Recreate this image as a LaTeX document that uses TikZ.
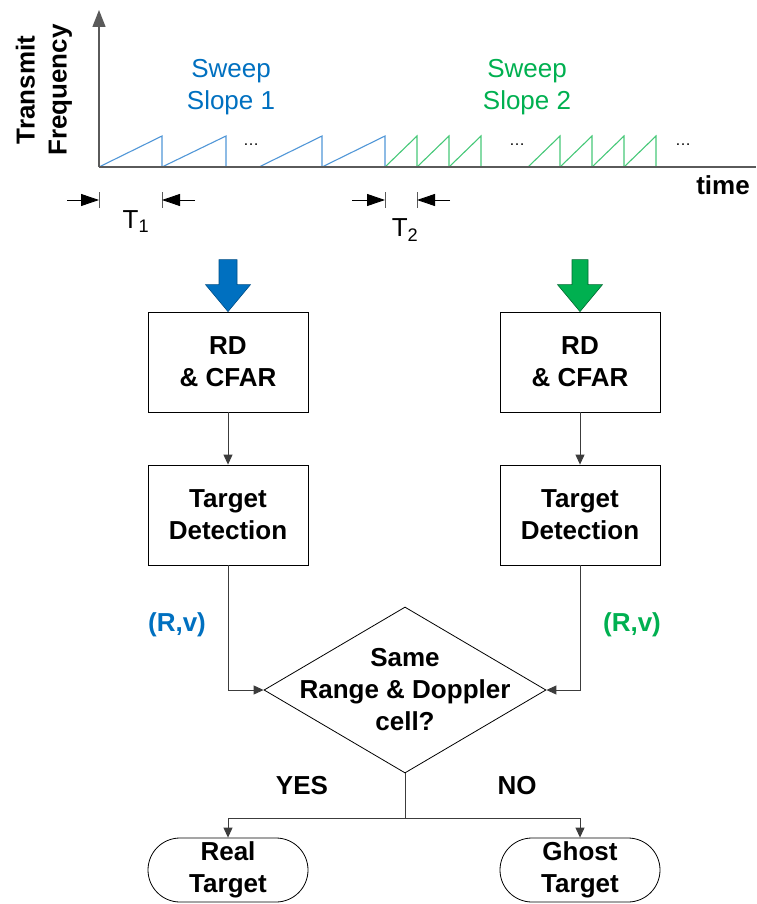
\documentclass[tikz,border=0pt]{standalone}
\usepackage{fontspec}
\setmainfont{Liberation Sans}
\usetikzlibrary{arrows.meta,shapes.geometric,shapes.misc}
\definecolor{dblue}{RGB}{0,112,192}
\definecolor{dgreen}{RGB}{0,176,80}
\definecolor{lblue}{RGB}{80,150,215}
\definecolor{lgreen}{RGB}{70,200,120}
\definecolor{axisgray}{RGB}{90,90,90}
\definecolor{linegray}{RGB}{60,60,60}
\tikzset{
  box/.style={draw=black,line width=0.8pt,minimum width=160pt,minimum height=100pt,align=center,font=\fontsize{26}{32}\selectfont\bfseries,inner sep=0pt},
  term/.style={draw=black,line width=0.8pt,rounded rectangle,minimum width=160pt,minimum height=64pt,align=center,font=\fontsize{26}{32}\selectfont\bfseries,inner sep=0pt},
  lbl/.style={align=center,font=\fontsize{26}{32}\selectfont\bfseries,inner sep=0pt},
  sweep/.style={align=center,font=\fontsize{26}{32}\selectfont,inner sep=0pt},
  flow/.style={draw=linegray,line width=0.9pt},
  arr/.style={flow,-{Triangle[length=10pt,width=9pt]}},
  dim/.style={draw=black,line width=0.9pt,-{Triangle[length=18pt,width=12pt]}},
  tick/.style={draw=axisgray,line width=0.9pt},
  rampb/.style={draw=lblue,line width=1.1pt},
  rampg/.style={draw=lgreen,line width=1.1pt},
  dots/.style={font=\fontsize{16}{16}\selectfont,inner sep=0pt,anchor=base},
}
\begin{document}
\begin{tikzpicture}[x=1pt,y=-1pt]
\useasboundingbox (0,0) rectangle (756,904);
% axes
\coordinate (O) at (99,167);
\coordinate (ytop) at (99,10);
\coordinate (xend) at (756,167);
\draw[draw=axisgray,line width=1.4pt,-{Triangle[length=17pt,width=13pt]}] (O) -- (ytop);
% ramps blue
\foreach \a/\b in {99/162,162/226,259/322,322/385}{
  \draw[rampb] (\a,167) -- (\b,136) -- (\b,167);
}
% ramps green
\foreach \a/\b in {385/417,417/449,449/481,528/560,560/592,592/624,624/656}{
  \draw[rampg] (\a,167) -- (\b,136) -- (\b,167);
}
\draw[draw=axisgray,line width=1.8pt] (O) -- (xend);
\node[dots] (d1) at (251,146) {\dots};
\node[dots] (d2) at (517,146) {\dots};
\node[dots] (d3) at (683,146) {\dots};
% labels
\node[lbl,rotate=90] (yl) at (44,90) {Transmit\\Frequency};
\node[lbl] (tl) at (723,185) {time};
\node[sweep,text=dblue] (s1) at (231,87) {Sweep\\Slope 1};
\node[sweep,text=dgreen] (s2) at (527,87) {Sweep\\Slope 2};
% T dims
\coordinate (t1a) at (99,200);
\coordinate (t1b) at (162,200);
\coordinate (t2a) at (385,200);
\coordinate (t2b) at (417,200);
\draw[tick] (99,192) -- (99,208);
\draw[tick] (162,192) -- (162,208);
\draw[tick] (385,192) -- (385,208);
\draw[tick] (417,192) -- (417,208);
\draw[dim] ([xshift=-32pt]t1a) -- (t1a);
\draw[dim] ([xshift=33pt]t1b) -- (t1b);
\draw[dim] ([xshift=-33pt]t2a) -- (t2a);
\draw[dim] ([xshift=33pt]t2b) -- (t2b);
\node[sweep,text=black] (T1) at (136,222) {T$_{\mathrm{1}}$};
\node[sweep,text=black] (T2) at (405,230) {T$_{\mathrm{2}}$};
% boxes
\node[box] (rd1) at (228,362) {RD\\\& CFAR};
\node[box] (rd2) at (580,362) {RD\\\& CFAR};
\node[box] (td1) at (228,515) {Target\\Detection};
\node[box] (td2) at (580,515) {Target\\Detection};
% big arrows
\filldraw[fill=dblue,draw=dblue!70!black,line width=0.6pt]
  (rd1.north) -- ++(-22.5,-27) -- ++(13.5,0) -- ++(0,-25) -- ++(18,0) -- ++(0,25) -- ++(13.5,0) -- cycle;
\filldraw[fill=dgreen,draw=dgreen!60!black,line width=0.6pt]
  (rd2.north) -- ++(-22.5,-27) -- ++(14.5,0) -- ++(0,-25) -- ++(16,0) -- ++(0,25) -- ++(14.5,0) -- cycle;
\draw[arr] (rd1) -- (td1);
\draw[arr] (rd2) -- (td2);
% diamond
\node[draw=black,line width=0.8pt,diamond,minimum width=282pt,minimum height=166pt,inner sep=0pt] (dia) at (405,690) {};
\node[lbl] (diat) at (405,690) {Same\\Range \& Doppler\\cell?};
\draw[arr] (td1.south) |- (dia.west);
\draw[arr] (td2.south) |- (dia.east);
\node[lbl,text=dblue] (rv1) at (177,625) {(R,v)};
\node[lbl,text=dgreen] (rv2) at (632,625) {(R,v)};
% terminals
\node[term] (real) at (228,870) {Real\\Target};
\node[term] (ghost) at (580,870) {Ghost\\Target};
\coordinate (split) at (405,818);
\draw[flow] (dia.south) -- (split);
\draw[arr] (split) -| (real.north);
\draw[arr] (split) -| (ghost.north);
\node[lbl] (yes) at (302,786) {YES};
\node[lbl] (no) at (517,786) {NO};
\end{tikzpicture}
\end{document}
